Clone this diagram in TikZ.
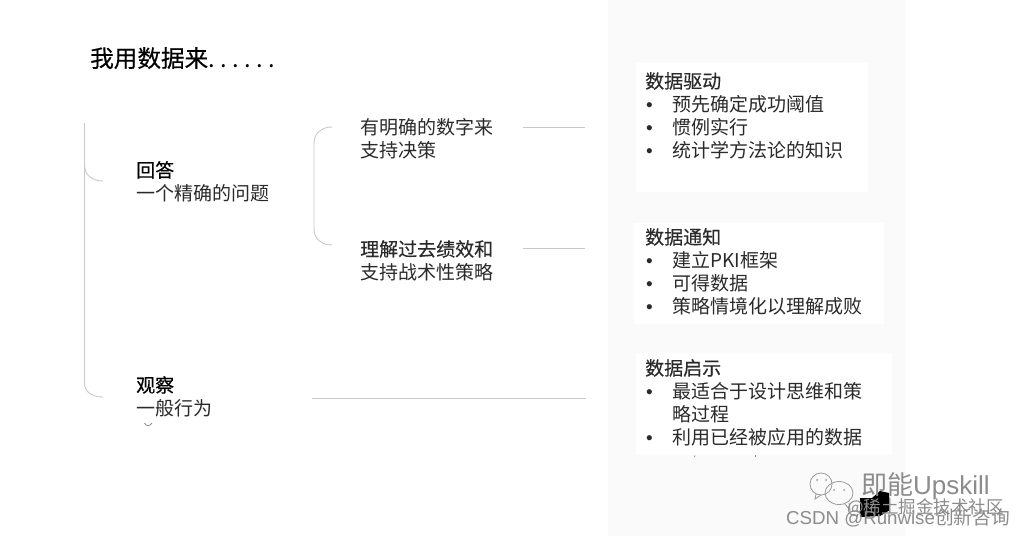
\documentclass[tikz,border=0pt]{standalone}
\usepackage{fontspec}
\usepackage{xcolor}
\setmainfont{Noto Sans CJK SC}
\newfontfamily\latinfont{Liberation Sans}
\newfontfamily\headfont[FakeBold=0.35]{Noto Sans CJK SC}
\definecolor{panelgray}{HTML}{FAFAFA}
\definecolor{linegray}{HTML}{C9C9C9}
\definecolor{inkgray}{HTML}{2A2A2A}
\newcommand{\bul}{\makebox[27pt][l]{\hspace{1pt}\latinfont\textbullet}}
\newcommand{\gapdot}{.\kern5.4pt}
\begin{document}
\begin{tikzpicture}[x=1pt,y=-1pt,body/.style={anchor=north west, inner sep=0pt, align=left, text=inkgray, font=\fontsize{19}{23}\selectfont},panel/.style={anchor=north west, fill=white, inner sep=0pt},paneltext/.style={anchor=north west, inner sep=0pt, align=left, text=inkgray, font=\fontsize{19}{23}\selectfont},link/.style={draw=linegray, line width=.9pt},speck/.style={draw=gray, line width=.7pt},water/.style={inner sep=0pt, text=black!45},bubble/.style={line width=.8pt, draw=black!40}]
\useasboundingbox (0,0) rectangle (1024,536);
\fill[white] (0,0) rectangle (1024,536);
\fill[panelgray] (608,0) rectangle (905,536);
\node[body, text=black, font=\fontsize{23.6}{28}\selectfont] (title) at (90,47) {{\headfont 我用数据来}\gapdot\gapdot\gapdot\gapdot\gapdot.};
\node[body] (answer) at (136,161) {\textcolor{black}{\headfont 回答}\\一个精确的问题};
\node[body] (observe) at (136,376) {\textcolor{black}{\headfont 观察}\\一般行为};
\node[body] (number) at (360,118) {有明确的数字来\\支持决策};
\node[body] (past) at (360,240) {{\headfont 理解过去绩效和}\\支持战术性策略};
\node[panel, minimum width=232pt, minimum height=129pt] (driven) at (636,63) {};
\node[panel, minimum width=250pt, minimum height=101pt] (informed) at (634,223) {};
\node[panel, minimum width=256pt, minimum height=102pt] (inspired) at (636,353) {};
\node[paneltext] (driventext) at (645,72) {{\headfont 数据驱动}\\\bul 预先确定成功阈值\\\bul 惯例实行\\\bul 统计学方法论的知识};
\node[paneltext] (informedtext) at (645,228) {{\headfont 数据通知}\\\bul 建立PKI框架\\\bul 可得数据\\\bul 策略情境化以理解成败};
\node[paneltext] (inspiredtext) at (645,359) {{\headfont 数据启示}\\\bul 最适合于设计思维和策\\\hspace*{27pt}略过程\\\bul 利用已经被应用的数据};
\coordinate (leftTop) at (84.5,123);
\coordinate (leftMid) at (103,181);
\coordinate (leftEnd) at (103,397);
\coordinate (midTop) at (332,127);
\coordinate (midEnd) at (332,245);
\coordinate (numberStart) at (523,127.5);
\coordinate (numberEnd) at (585,127.5);
\coordinate (pastStart) at (523,248.5);
\coordinate (pastEnd) at (585,248.5);
\coordinate (observeStart) at (312,398.5);
\coordinate (observeEnd) at (586,398.5);
\draw[link] (leftTop) -- (84.5,383) .. controls (84.5,392) and (92,397) .. (leftEnd);
\draw[link] (84.5,165) .. controls (84.5,175) and (92,181) .. (leftMid);
\draw[link] (midTop) .. controls (322,127) and (314,133) .. (314,143) -- (314,229) .. controls (314,239) and (322,245) .. (midEnd);
\draw[link] (numberStart) -- (numberEnd);
\draw[link] (pastStart) -- (pastEnd);
\draw[link] (observeStart) -- (observeEnd);
\draw[speck] (144.5,423) .. controls (146,426.5) and (150,426.5) .. (152,423);
\draw[speck] (695,455.5) -- (694.5,457);
\draw[speck] (755,455) -- (755,457);
\fill[black] (860,498) -- (872,498) -- (880,491) -- (889,493) -- (890,510) -- (880,516) -- (860,517) -- cycle;
\draw[bubble] (821,484) ellipse (11pt and 11pt);
\draw[bubble] (839,493) ellipse (14pt and 11.5pt);
\draw[bubble] (816,494) -- (815,499) -- (821,495);
\draw[bubble] (845,504) -- (850,510) -- (849,503);
\fill[black!40] (817,480) circle (1pt) (826,480) circle (1pt) (834,490) circle (1pt) (844,490) circle (1pt);
\node[water, anchor=west, font=\fontsize{26}{26}\selectfont] (brand) at (861,486) {即能{\latinfont Upskill}};
\node[water, anchor=west, font=\fontsize{17.5}{18}\selectfont] (juejin) at (847,508) {@稀土掘金技术社区};
\node[water, anchor=east, font=\fontsize{18.7}{19}\selectfont] (csdn) at (1010,518) {{\latinfont CSDN @Runwise}创新咨询};
\end{tikzpicture}
\end{document}
